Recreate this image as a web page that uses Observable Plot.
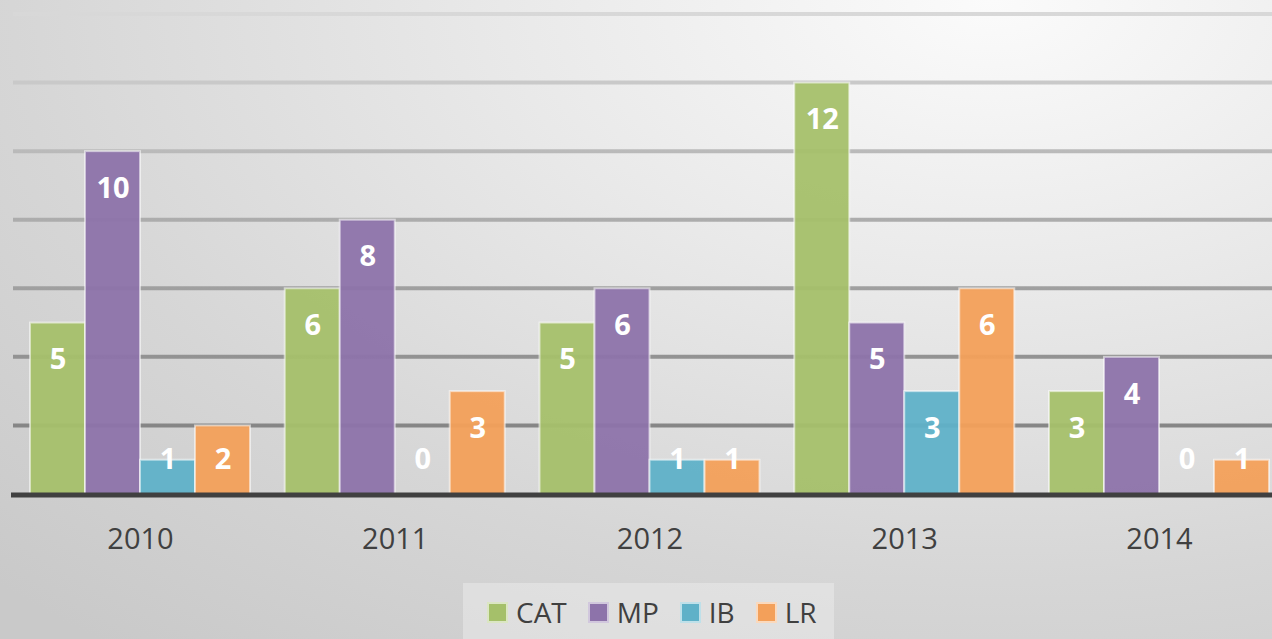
<!DOCTYPE html>
<html>
<head>
<meta charset="utf-8">
<script src="https://cdn.jsdelivr.net/npm/d3@7"></script>
<script src="https://cdn.jsdelivr.net/npm/@observablehq/plot@0.6"></script>
<style>
  html, body { margin: 0; padding: 0; }
  body {
    width: 1272px; height: 639px; overflow: hidden; position: relative;
    background: radial-gradient(ellipse 110% 130% at 78% 0%, #fbfbfb 0%, #e9e9e9 35%, #d6d6d6 70%, #c9c9c9 100%);
    font-family: "Open Sans", sans-serif;
  }
  #chart { position: absolute; left: 0; top: 0; }
  #legend {
    position: absolute; left: 463px; top: 583px; width: 371px; height: 70px;
    background: rgba(240,240,240,0.45);
    display: flex; align-items: flex-start; box-sizing: border-box; padding: 18px 0 0 24px;
  }
  .item { display: flex; align-items: center; margin-right: 21px; }
  .sw { width: 17px; height: 17px; border: 2px solid rgba(255,255,255,0.6); margin-right: 8px; }
  .lab { font-size: 28px; color: #404040; line-height: 22px; font-family: "Open Sans", sans-serif; }
</style>
</head>
<body>
<div id="chart"></div>
<div id="legend"></div>
<script>
const years = ["2010", "2011", "2012", "2013", "2014"];
const series = ["CAT", "MP", "IB", "LR"];
const CAT = [5, 6, 5, 12, 3];
const MP = [10, 8, 6, 5, 4];
const IB = [1, 0, 1, 3, 0];
const LR = [2, 3, 1, 6, 1];
const gridValues = [2, 4, 6, 8, 10, 12, 14];
const colors = ["#a5c06a", "#8d73aa", "#5fb1c8", "#f3a05a"];

const valuesBySeries = {CAT, MP, IB, LR};
const data = [];
years.forEach((year, i) => {
  series.forEach(s => data.push({year, series: s, value: valuesBySeries[s][i]}));
});

const plot = Plot.plot({
  width: 1272,
  height: 580,
  marginTop: 14,
  marginBottom: 86,
  marginLeft: 13,
  marginRight: -14,
  style: {background: "transparent", fontFamily: "'Open Sans', sans-serif", fontSize: "29px", color: "#404040", overflow: "visible"},
  fx: {domain: years, paddingInner: 0.1364, paddingOuter: 0.0667, round: false, label: null, axis: "bottom", tickSize: 0, tickPadding: 34},
  x: {domain: series, padding: 0, round: false, axis: null},
  y: {domain: [0, 14], axis: null},
  color: {domain: series, range: colors},
  marks: [
    Plot.barY(data, {fx: "year", x: "series", y: "value", fill: "series", fillOpacity: 0.95,
      stroke: "white", strokeOpacity: 0.55, strokeWidth: 2}),
    Plot.text(data, {fx: "year", x: "series", y: d => Math.max(d.value, 2.08), dy: 37,
      text: d => String(d.value), fill: "white", fontWeight: "bold", fontSize: 29,
      fontFamily: "'Open Sans', sans-serif", lineAnchor: "middle"})
  ]
});

// Grid lines and baseline spanning the full width, placed with the plot's y scale
const ys = plot.scale("y");
const svg = d3.select(plot);
const defs = svg.insert("defs", ":first-child");
const grad = defs.append("linearGradient").attr("id", "gridGrad")
  .attr("gradientUnits", "userSpaceOnUse").attr("x1", 0).attr("x2", 0)
  .attr("y1", ys.apply(14)).attr("y2", ys.apply(2));
grad.append("stop").attr("offset", "0%").attr("stop-color", "#d8d8d8");
grad.append("stop").attr("offset", "40%").attr("stop-color", "#b4b4b4");
grad.append("stop").attr("offset", "100%").attr("stop-color", "#868686");

const gridG = svg.insert("g", "defs + *").attr("class", "grid");
gridG.selectAll("line").data(gridValues).join("line")
  .attr("x1", 13).attr("x2", 1272)
  .attr("y1", d => ys.apply(d)).attr("y2", d => ys.apply(d))
  .attr("stroke", "url(#gridGrad)").attr("stroke-width", 4);

svg.append("line")
  .attr("x1", 11).attr("x2", 1272)
  .attr("y1", ys.apply(0) + 1).attr("y2", ys.apply(0) + 1)
  .attr("stroke", "#404040").attr("stroke-width", 5);

document.getElementById("chart").appendChild(plot);

// Legend
const legend = d3.select("#legend");
series.forEach((s, i) => {
  const it = legend.append("div").attr("class", "item");
  it.append("div").attr("class", "sw").style("background", colors[i]);
  it.append("div").attr("class", "lab").text(s);
});
</script>
</body>
</html>
